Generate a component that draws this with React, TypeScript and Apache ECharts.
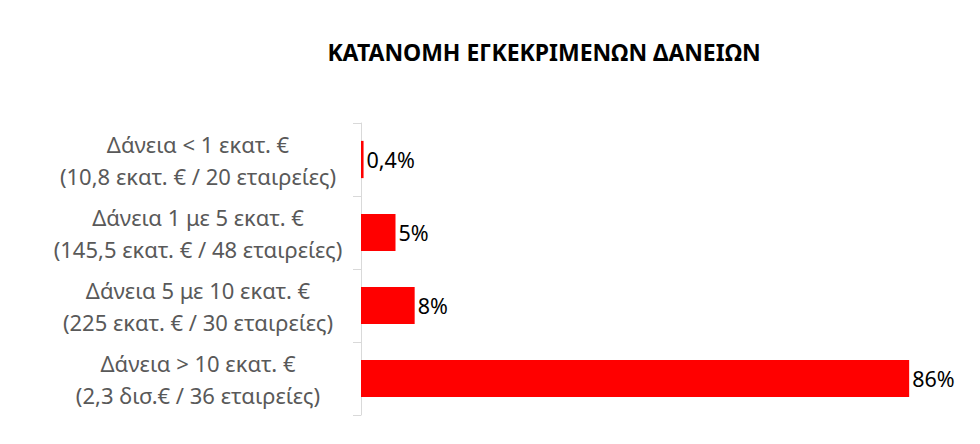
import { useEffect, useRef } from "react";
import * as echarts from "echarts";

const categories = [
  "Δάνεια < 1 εκατ. €\n(10,8 εκατ. € / 20 εταιρείες)",
  "Δάνεια 1 με 5 εκατ. €\n(145,5 εκατ. € / 48 εταιρείες)",
  "Δάνεια 5 με 10 εκατ. €\n(225 εκατ. € / 30 εταιρείες)",
  "Δάνεια > 10 εκατ. €\n(2,3 δισ.€ / 36 εταιρείες)",
];
const shares = [0.4, 5.4, 8.4, 85.8];

const FONT = "'Noto Sans', 'DejaVu Sans', sans-serif";

const formatShare = (v: number) =>
  v < 1 ? `${v.toFixed(1).replace(".", ",")}%` : `${Math.round(v)}%`;

export default function App() {
  const ref = useRef<HTMLDivElement | null>(null);

  useEffect(() => {
    if (!ref.current) return;
    const chart = echarts.init(ref.current, null, { renderer: "svg" });

    chart.setOption({
      animation: false,
      backgroundColor: "#fff",
      title: {
        text: "ΚΑΤΑΝΟΜΗ ΕΓΚΕΚΡΙΜΕΝΩΝ ΔΑΝΕΙΩΝ",
        left: 539,
        top: 35,
        textAlign: "center",
        textStyle: { fontFamily: FONT, fontSize: 23, fontWeight: "bold", color: "#000" },
      },
      grid: { left: 361, right: 44, top: 123, bottom: 29, containLabel: false },
      xAxis: {
        type: "value",
        min: 0,
        max: 90,
        show: false,
      },
      yAxis: {
        type: "category",
        inverse: true,
        data: categories,
        axisLine: { show: true, lineStyle: { color: "#d9d9d9", width: 1 } },
        axisTick: { show: true, length: 8, lineStyle: { color: "#d9d9d9" } },
        axisLabel: {
          align: "center",
          margin: 163,
          fontFamily: FONT,
          fontSize: 22,
          lineHeight: 32,
          color: "#595959",
        },
      },
      series: [
        {
          type: "bar",
          data: shares,
          barCategoryGap: "49%",
          itemStyle: { color: "#ff0000" },
          label: {
            show: true,
            position: "right",
            distance: 3,
            fontFamily: FONT,
            fontSize: 21.5,
            color: "#000",
            formatter: (p: { value: number }) => formatShare(p.value),
          },
        },
      ],
    });

    return () => chart.dispose();
  }, []);

  return (
    <div
      ref={ref}
      style={{ position: "fixed", left: 0, top: 0, width: 980, height: 444 }}
    />
  );
}
